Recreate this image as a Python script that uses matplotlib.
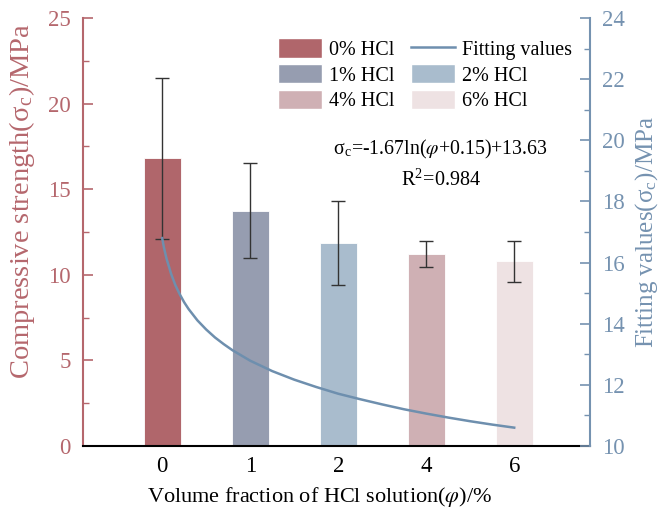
import matplotlib
matplotlib.use("Agg")
import matplotlib.pyplot as plt
from matplotlib.patches import Patch
from matplotlib.lines import Line2D
from matplotlib.ticker import MultipleLocator

plt.rcParams['font.family'] = ['Liberation Serif', 'DejaVu Serif']
plt.rcParams['mathtext.fontset'] = 'stix'

categories = ['0', '1', '2', '4', '6']
legend_labels = ['0% HCl', '1% HCl', '2% HCl', '4% HCl', '6% HCl']
strength = [16.8, 13.75, 11.85, 11.2, 10.8]
errors = [4.7, 2.75, 2.45, 0.75, 1.2]
bar_colors = ['#b0666b', '#969db0', '#a9bccd', '#cfb0b4', '#eee2e3']

# fitting curve (x in category position units, value on right axis)
fit_x = [0, 0.02, 0.05, 0.08, 0.1, 0.15, 0.2, 0.25, 0.3, 0.4, 0.5, 0.6, 0.7, 0.8, 1.0,
         1.25, 1.5, 1.75, 2.0, 2.25, 2.5, 2.75, 3.0, 3.25, 3.5, 3.75, 4.0]
fit_y = [16.80, 16.49, 16.12, 15.84, 15.64, 15.26, 14.96, 14.70, 14.48, 14.11, 13.81,
         13.55, 13.33, 13.13, 12.79, 12.45, 12.17, 11.93, 11.71, 11.53, 11.36, 11.20,
         11.06, 10.93, 10.81, 10.70, 10.60]

left_color = '#b5676d'
right_color = '#7592b0'
line_color = '#6e8fae'

fig = plt.figure(figsize=(6.67, 5.22), dpi=100)
ax = fig.add_axes([0.1244, 0.1456, 0.760, 0.820])
pos = list(range(len(categories)))
ax.bar(pos, strength, width=0.42, color=bar_colors, edgecolor='white', linewidth=0.6,
       yerr=errors, capsize=5, error_kw=dict(ecolor='#333333', elinewidth=1.0, capthick=1.0),
       zorder=2)
ax.set_xlim(-0.9, 4.86)
ax.set_ylim(0, 25)
ax.set_xticks(pos)
ax.set_xticklabels(categories)
ax.yaxis.set_major_locator(MultipleLocator(5))
ax.yaxis.set_minor_locator(MultipleLocator(2.5))
ax.tick_params(axis='x', direction='in', length=5, width=1.5, labelsize=16.5, pad=7, colors='black')
ax.tick_params(axis='y', which='major', direction='in', length=7, width=1.2, colors=left_color,
               labelsize=16.5, pad=9)
ax.tick_params(axis='y', which='minor', direction='in', length=4, width=1.0, colors=left_color)
ax.spines['top'].set_visible(False)
ax.spines['right'].set_visible(False)
ax.spines['left'].set_color(left_color)
ax.spines['left'].set_linewidth(1.5)
ax.spines['bottom'].set_linewidth(1.5)
ax.set_ylabel('Compressive strength(σ$_\\mathregular{c}$)/MPa', fontsize=20.5, color=left_color)
ax.yaxis.set_label_coords(-0.09, 0.572)
ax.set_xlabel('Volume fraction of HCl solution($\\varphi$)/%', fontsize=16)
ax.xaxis.set_label_coords(0.467, -0.092)

ax2 = ax.twinx()
ax2.plot(fit_x, fit_y, color=line_color, linewidth=1.8, zorder=3)
ax2.set_ylim(10, 24)
ax2.yaxis.set_major_locator(MultipleLocator(2))
ax2.yaxis.set_minor_locator(MultipleLocator(1))
ax2.tick_params(axis='y', which='major', direction='in', length=7, width=1.2, colors=right_color,
                labelsize=16.5, pad=9)
ax2.tick_params(axis='y', which='minor', direction='in', length=4, width=1.0, colors=right_color)
for s in ['top', 'left', 'bottom']:
    ax2.spines[s].set_visible(False)
ax2.spines['right'].set_color(right_color)
ax2.spines['right'].set_linewidth(1.5)
ax2.set_ylabel('Fitting values(σ$_\\mathregular{c}$)/MPa', fontsize=18, color=right_color, labelpad=6)

patches = [Patch(facecolor=c, edgecolor='white', label=l) for c, l in zip(bar_colors, legend_labels)]
fit_handle = Line2D([0], [0], color=line_color, linewidth=1.8, label='Fitting values')
handles = [patches[0], patches[1], patches[3], fit_handle, patches[2], patches[4]]
ax2.legend(handles=handles, ncol=2, frameon=False, fontsize=14.5, loc='upper left',
           bbox_to_anchor=(0.357, 0.985), handlelength=2.2, handleheight=1.1,
           labelspacing=0.2, columnspacing=0.8, handletextpad=0.35, borderaxespad=0.3)

ax2.text(0.706, 0.692, 'σ$_\\mathregular{c}$=-1.67ln($\\varphi$+0.15)+13.63', transform=ax2.transAxes,
         ha='center', va='center', fontsize=14.3)
ax2.text(0.706, 0.621, 'R$^\\mathregular{2}$=0.984', transform=ax2.transAxes,
         ha='center', va='center', fontsize=14.5)

fig.savefig('out.png', dpi=100)
